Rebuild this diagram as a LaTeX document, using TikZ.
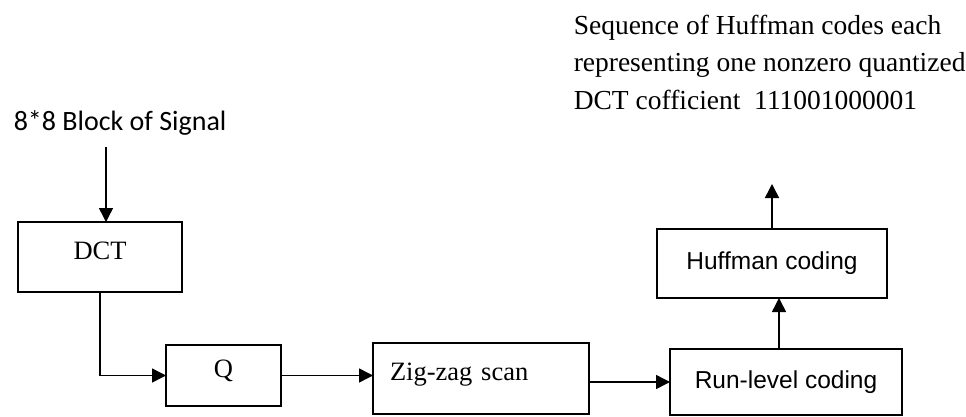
\documentclass[tikz,border=0pt]{standalone}
\usepackage{fontspec}
\setmainfont{Liberation Serif}
\newfontfamily\sansbox{Liberation Sans}
\newfontfamily\calfont{Carlito}
\usepackage{tikz}
\usetikzlibrary{arrows.meta,positioning}

\begin{document}
\begin{tikzpicture}[x=1pt, y=1pt, line width=1.5pt,
    block/.style={rectangle, draw, inner sep=0pt, outer sep=0pt},
    serifblock/.style={block, font=\fontsize{26.5}{32}\selectfont, text depth=13pt},
    sansblock/.style={block, font=\sansbox\fontsize{24.5}{30}\selectfont},
    arr/.style={-{Triangle[length=14pt, width=14pt]}}]
    \useasboundingbox (0,0) rectangle (966,416);

    % Nodes
    \node (dct) [serifblock, minimum width=164pt, minimum height=70pt] at (100,159) {DCT};
    \node (q) [serifblock, minimum width=115pt, minimum height=61pt, below right=53pt and -16pt of dct] {Q};
    \node (zig) [serifblock, minimum width=216pt, minimum height=71pt, text width=182pt, align=left, inner xsep=17pt, right=92pt of q, yshift=-3pt] {Zig-zag scan};
    \node (run) [sansblock, minimum width=232pt, minimum height=66pt, right=81pt of zig, yshift=-3.5pt] {Run-level coding};
    \node (huff) [sansblock, minimum width=230pt, minimum height=69pt, above=51pt of run, xshift=-14pt] {Huffman coding};

    \node (sig) [anchor=base west, inner sep=0pt, font=\calfont\fontsize{28}{34}\selectfont] at (13,286) {8*8 Block of Signal};
    \node (seq) [anchor=north west, align=left, inner sep=0pt, font=\fontsize{27.5}{37.5}\selectfont] at (573,402) {Sequence of Huffman codes each\\representing one nonzero quantized\\DCT cofficient\ \ 111001000001};

    \coordinate (sigend) at ([xshift=6pt, yshift=75pt]dct.north);
    \coordinate (out) at ([yshift=45pt]huff.north);

    % Edges
    \draw[arr] (sigend) -- (sigend |- dct.north);
    \draw[arr] (dct.south) |- (q.west);
    \draw[arr] (q.east) -- (q.east -| zig.west);
    \draw[arr] (zig.east |- run.west) -- (run.west);
    \draw[arr] ([xshift=-7pt]run.north) -- ([xshift=-7pt]run.north |- huff.south);
    \draw[arr] (huff.north) -- (out);
\end{tikzpicture}
\end{document}
